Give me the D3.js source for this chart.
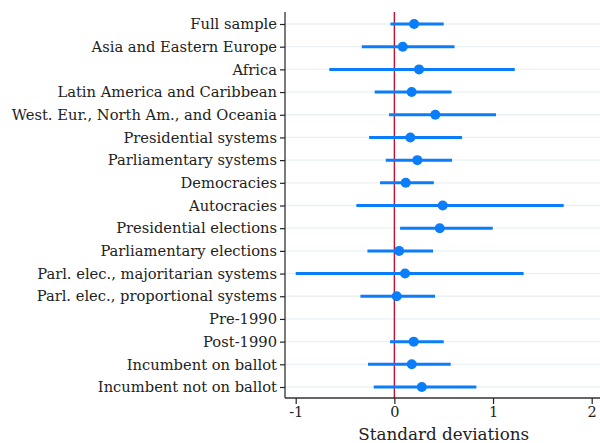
<!DOCTYPE html>
<html>
<head>
<meta charset="utf-8">
<script src="https://cdn.jsdelivr.net/npm/d3@7"></script>
<style>
  html, body { margin: 0; padding: 0; background: #fff; }
  svg text { font-family: "DejaVu Serif", serif; fill: #222; }
</style>
</head>
<body>
<svg id="chart" width="600" height="443"></svg>
<script>
// Subgroup labels, top to bottom
const categories = [
  "Full sample",
  "Asia and Eastern Europe",
  "Africa",
  "Latin America and Caribbean",
  "West. Eur., North Am., and Oceania",
  "Presidential systems",
  "Parliamentary systems",
  "Democracies",
  "Autocracies",
  "Presidential elections",
  "Parliamentary elections",
  "Parl. elec., majoritarian systems",
  "Parl. elec., proportional systems",
  "Pre-1990",
  "Post-1990",
  "Incumbent on ballot",
  "Incumbent not on ballot"
];
// Point estimates (standard deviations); null where no estimate is available
const estimates = [0.20, 0.085, 0.25, 0.175, 0.415, 0.162, 0.233, 0.115, 0.49, 0.46, 0.048, 0.108, 0.024, null, 0.196, 0.176, 0.278];
// Confidence interval bounds
const lower = [-0.04, -0.33, -0.66, -0.20, -0.054, -0.256, -0.087, -0.145, -0.385, 0.058, -0.273, -1.0, -0.344, null, -0.044, -0.267, -0.209];
const upper = [0.50, 0.61, 1.22, 0.58, 1.03, 0.686, 0.585, 0.40, 1.716, 0.997, 0.392, 1.31, 0.412, null, 0.50, 0.571, 0.831];
// x-axis ticks
const xTicks = [-1, 0, 1, 2];
const xTitle = "Standard deviations";

const svg = d3.select("#chart");
const margin = { left: 285, right: 0, top: 12, bottom: 45 };
const W = 600, H = 443;

const x = d3.scaleLinear().domain([-1, 2]).range([295.7, 591.7]);
const y = d3.scalePoint().domain(categories).range([24, 387]);

const rows = categories.map((c, i) => ({ c, est: estimates[i], lo: lower[i], hi: upper[i] }));

// horizontal grid lines
svg.append("g").selectAll("line").data(categories).join("line")
  .attr("x1", margin.left).attr("x2", W)
  .attr("y1", d => y(d)).attr("y2", d => y(d))
  .attr("stroke", "#eaf1f3").attr("stroke-width", 1.3);

// reference line at zero
svg.append("line")
  .attr("x1", x(0)).attr("x2", x(0))
  .attr("y1", margin.top).attr("y2", H - margin.bottom + 0.5)
  .attr("stroke", "#c8102e").attr("stroke-width", 1.4);

const withData = rows.filter(d => d.est !== null);

// confidence intervals
svg.append("g").selectAll("line").data(withData).join("line")
  .attr("x1", d => x(d.lo)).attr("x2", d => x(d.hi))
  .attr("y1", d => y(d.c)).attr("y2", d => y(d.c))
  .attr("stroke", "#0a7dfa").attr("stroke-width", 3);

// point estimates
svg.append("g").selectAll("circle").data(withData).join("circle")
  .attr("cx", d => x(d.est)).attr("cy", d => y(d.c))
  .attr("r", 5).attr("fill", "#0a7dfa");

// y axis
const yAxis = svg.append("g")
  .attr("transform", `translate(${margin.left},0)`)
  .call(d3.axisLeft(y).tickSize(5).tickPadding(3));
yAxis.select(".domain").attr("d", `M0,${margin.top}V${H - margin.bottom}`);

// x axis
const xAxis = svg.append("g")
  .attr("transform", `translate(0,${H - margin.bottom})`)
  .call(d3.axisBottom(x).tickValues(xTicks).tickFormat(d => String(d)).tickSize(6).tickPadding(3));
xAxis.select(".domain").attr("d", `M${margin.left},0H${W}`);

svg.selectAll(".domain").attr("stroke", "#333").attr("stroke-width", 1.3);
svg.selectAll(".tick line").attr("stroke", "#222").attr("stroke-width", 1.2);
yAxis.selectAll("text").style("font-size", "14.7px").style("font-family", '"DejaVu Serif", serif').attr("fill", "#222");
xAxis.selectAll("text").style("font-size", "14.5px").style("font-family", '"DejaVu Serif", serif').attr("fill", "#222");

svg.append("text")
  .attr("x", x(0.5)).attr("y", 440)
  .attr("text-anchor", "middle")
  .style("font-size", "16.8px")
  .text(xTitle);
</script>
</body>
</html>
